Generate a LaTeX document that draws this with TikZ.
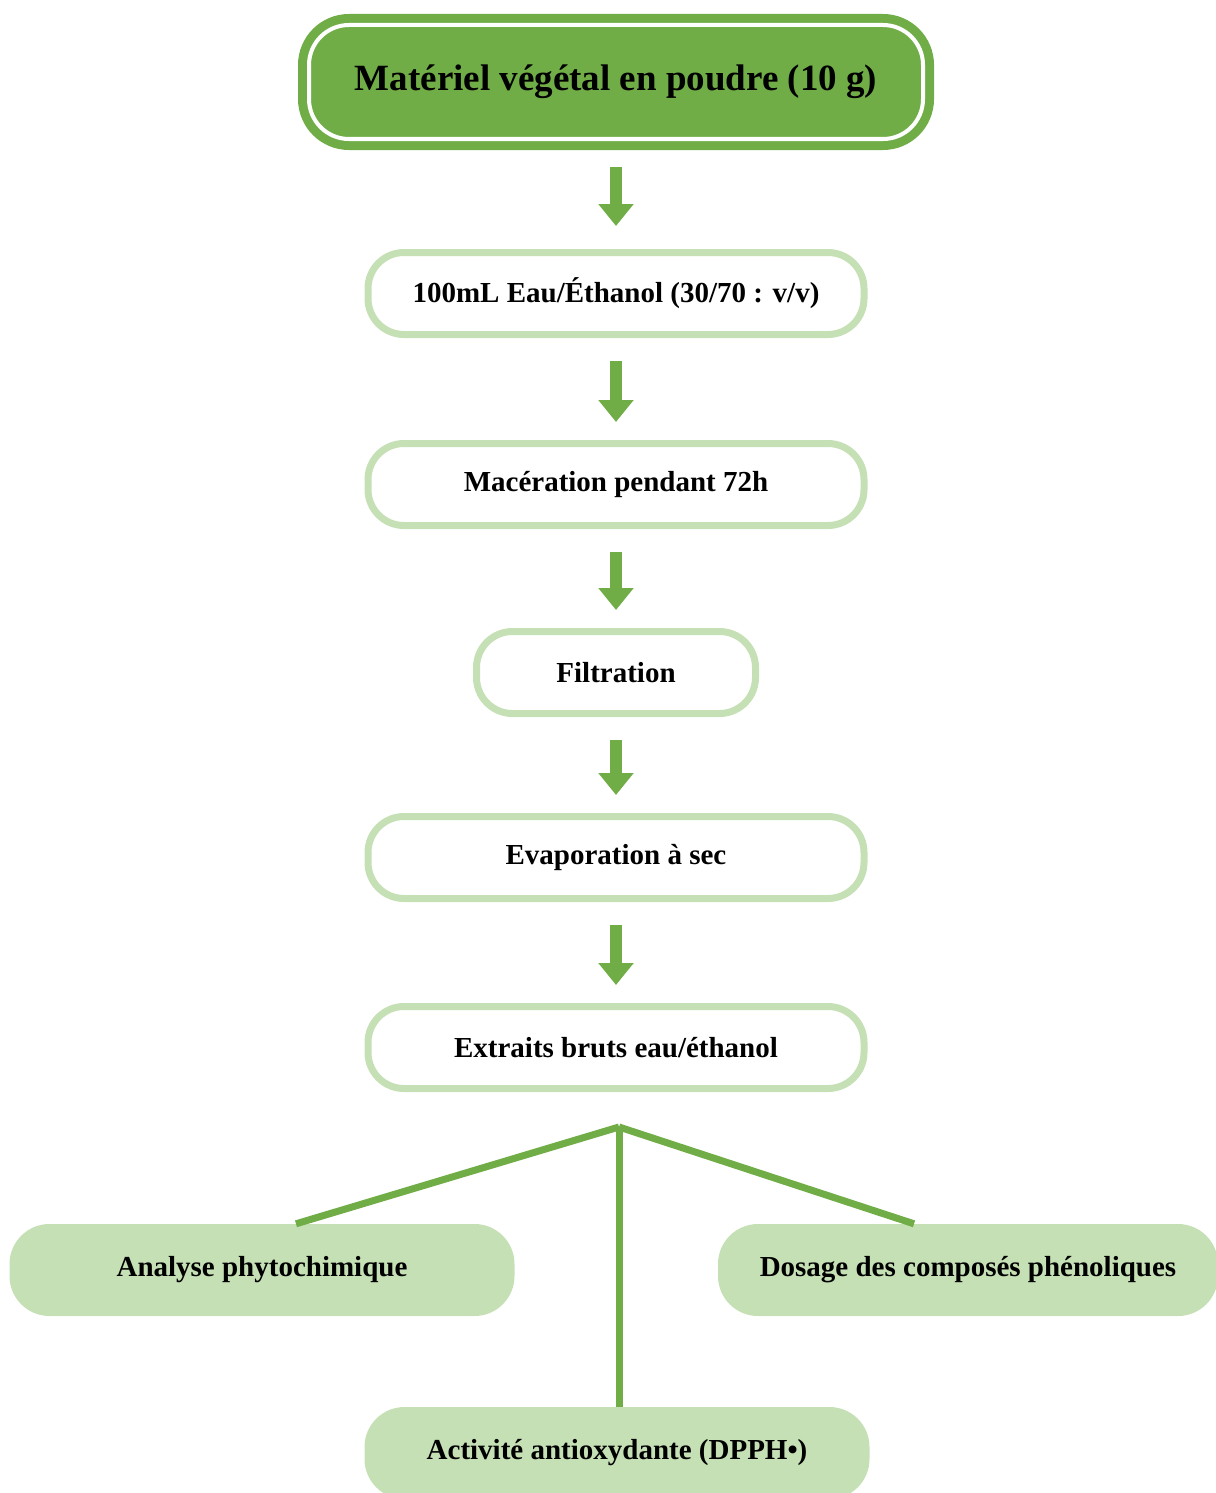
\documentclass[tikz,border=0pt]{standalone}
\usepackage{fontspec}
\setmainfont{Liberation Serif}
\usepackage{xcolor}
\usetikzlibrary{shapes.geometric, arrows.meta, positioning}

\definecolor{darkleaf}{HTML}{70AD47}
\definecolor{paleleaf}{HTML}{C5E0B4}

\begin{document}
\begin{tikzpicture}[
			x=1pt, y=1pt,
			node distance=99pt,
			every node/.style={align=center, font=\bfseries\fontsize{29}{34}\selectfont},
			titlebox/.style={rectangle, rounded corners=40pt, fill=darkleaf, draw=darkleaf, line width=9pt, double=white, double distance=4pt, outer sep=11pt, minimum width=614pt, minimum height=114pt, font=\bfseries\fontsize{37}{42}\selectfont},
			stepbox/.style={rectangle, rounded corners=36pt, draw=paleleaf, fill=white, line width=7pt, minimum width=496pt, minimum height=82pt},
			resultbox/.style={rectangle, rounded corners=40pt, fill=paleleaf, minimum width=505pt, minimum height=92pt},
			arrow/.style={-{Triangle[length=22pt, width=34pt]}, darkleaf, line width=12pt, shorten <=23pt, shorten >=18pt},
			branch/.style={darkleaf, line width=7pt}
			]
			\useasboundingbox (0,0) rectangle (1215,-1493);
			
			% Nodes
			\node (powder) [titlebox] at (616,-82) {Matériel végétal en poudre (10 g)};
			\node (solvent) [stepbox, below=of powder] {100mL Eau/Éthanol (30/70 : v/v)};
			\node (maceration) [stepbox, below=102pt of solvent] {Macération pendant 72h};
			\node (filtration) [stepbox, minimum width=279pt, below=of maceration] {Filtration};
			\node (evaporation) [stepbox, below=96pt of filtration] {Evaporation à sec};
			\node (extract) [stepbox, below=101pt of evaporation] {Extraits bruts eau/éthanol};
			
			\coordinate (split) at (619,-1127);
			\node (phyto) [resultbox] at (262,-1270) {Analyse phytochimique};
			\node (phenol) [resultbox, minimum width=500pt] at (968,-1270) {Dosage des composés phénoliques};
			\node (dpph) [resultbox] at (617,-1453) {Activité antioxydante (DPPH•)};
			
			% Connections
			\draw [arrow, shorten <=17pt, shorten >=23pt] (powder) -- (solvent);
			\draw [arrow] (solvent) -- (maceration);
			\draw [arrow] (maceration) -- (filtration);
			\draw [arrow] (filtration) -- (evaporation);
			\draw [arrow] (evaporation) -- (extract);
			
			\draw [branch] (split) -- ([xshift=34pt]phyto.north);
			\draw [branch] (split) -- ([xshift=-54pt]phenol.north);
			\draw [branch] (split) -- (split |- dpph.north);
			
		\end{tikzpicture}
\end{document}
